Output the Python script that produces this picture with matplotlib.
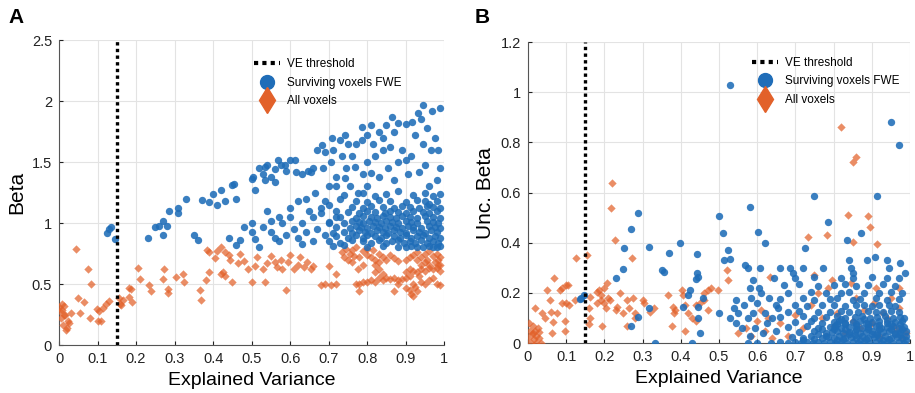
import matplotlib.pyplot as plt
from matplotlib.lines import Line2D
import numpy as np

plt.rcParams['font.family'] = ['Liberation Sans', 'DejaVu Sans']

# ---------------- data: panel A (Beta) ----------------
ve_threshold = 0.15

a_all = [
    (0.0, 0.31), (0.003, 0.28), (0.007, 0.29), (0.008, 0.34), (0.012, 0.25), (0.016, 0.245),
    (0.02, 0.14), (0.023, 0.2), (0.01, 0.165), (0.018, 0.12), (0.026, 0.18), (0.005, 0.22),
    (0.014, 0.32), (0.03, 0.26),
    (0.043, 0.79), (0.049, 0.385), (0.055, 0.265), (0.064, 0.355), (0.076, 0.62), (0.08, 0.225),
    (0.083, 0.5), (0.098, 0.295), (0.1, 0.2), (0.104, 0.28), (0.108, 0.2), (0.115, 0.3),
    (0.122, 0.34), (0.13, 0.36),
    (0.156, 0.385), (0.158, 0.34), (0.162, 0.33), (0.165, 0.37), (0.182, 0.47), (0.186, 0.46),
    (0.182, 0.39), (0.19, 0.35), (0.205, 0.63), (0.21, 0.54), (0.234, 0.49), (0.24, 0.44),
    (0.273, 0.62), (0.27, 0.54), (0.283, 0.46), (0.282, 0.43), (0.303, 0.56), (0.325, 0.52),
    (0.322, 0.58), (0.366, 0.45), (0.368, 0.37), (0.382, 0.53), (0.384, 0.78), (0.39, 0.76),
    (0.39, 0.6), (0.405, 0.71), (0.41, 0.77), (0.42, 0.8), (0.43, 0.76), (0.44, 0.74),
    (0.445, 0.7), (0.42, 0.58), (0.425, 0.6), (0.43, 0.57), (0.45, 0.52), (0.464, 0.67),
    (0.47, 0.75), (0.48, 0.69), (0.49, 0.62),
    (0.5, 0.52), (0.51, 0.65), (0.515, 0.72), (0.53, 0.62), (0.535, 0.52), (0.54, 0.67),
    (0.55, 0.73), (0.56, 0.68), (0.565, 0.64), (0.575, 0.7), (0.58, 0.62), (0.59, 0.45),
    (0.595, 0.68), (0.6, 0.74), (0.61, 0.62), (0.62, 0.66), (0.625, 0.72), (0.635, 0.64),
    (0.645, 0.68), (0.655, 0.62), (0.66, 0.65), (0.68, 0.49), (0.69, 0.5), (0.70, 0.65),
    (0.705, 0.49), (0.72, 0.58), (0.72, 0.5), (0.735, 0.76), (0.74, 0.72), (0.745, 0.79),
    (0.75, 0.7), (0.755, 0.75), (0.76, 0.68), (0.765, 0.73), (0.77, 0.5), (0.775, 0.62),
    (0.78, 0.44), (0.78, 0.72), (0.79, 0.66),
    (0.8, 0.52), (0.81, 0.53), (0.82, 0.52), (0.83, 0.55), (0.84, 0.53), (0.85, 0.55),
    (0.86, 0.54), (0.87, 0.55), (0.88, 0.53), (0.89, 0.54), (0.9, 0.55), (0.91, 0.57),
    (0.82, 0.6), (0.83, 0.62), (0.84, 0.58), (0.9, 0.6), (0.91, 0.62), (0.92, 0.61),
    (0.93, 0.6), (0.94, 0.62), (0.95, 0.61), (0.96, 0.63), (0.97, 0.62), (0.98, 0.63),
    (0.99, 0.61),
    (0.8, 0.74), (0.81, 0.72), (0.815, 0.78), (0.82, 0.7), (0.83, 0.75), (0.84, 0.72),
    (0.85, 0.7), (0.86, 0.74), (0.87, 0.71), (0.88, 0.69), (0.9, 0.7), (0.91, 0.72),
    (0.92, 0.74), (0.93, 0.76), (0.94, 0.72), (0.95, 0.75), (0.955, 0.7), (0.96, 0.77),
    (0.97, 0.73), (0.975, 0.68), (0.98, 0.75), (0.985, 0.7), (0.99, 0.72), (0.99, 0.66),
    (0.82, 0.66), (0.83, 0.68), (0.94, 0.66), (0.95, 0.68), (0.96, 0.66), (0.93, 0.7),
    (0.985, 0.66),
    (0.78, 0.5), (0.79, 0.52), (0.87, 0.44), (0.88, 0.5), (0.9, 0.47), (0.91, 0.45),
    (0.915, 0.42), (0.92, 0.4), (0.925, 0.48), (0.93, 0.44), (0.94, 0.52), (0.95, 0.5),
    (0.96, 0.53), (0.97, 0.55), (0.98, 0.5), (0.99, 0.49), (0.92, 0.5), (0.935, 0.57),
    (0.76, 0.78), (0.77, 0.8), (0.79, 0.77), (0.8, 0.79),
]

a_fwe = [
    (0.125, 0.92), (0.13, 0.95), (0.135, 0.97), (0.145, 0.87),
    (0.23, 0.88), (0.25, 0.97), (0.26, 0.98), (0.27, 1.02), (0.27, 0.9), (0.285, 1.1),
    (0.28, 0.98), (0.31, 1.12), (0.31, 1.08), (0.33, 1.2), (0.35, 0.9), (0.36, 0.86),
    (0.37, 1.19), (0.39, 1.17), (0.4, 1.24), (0.41, 1.15), (0.42, 1.27), (0.43, 1.18),
    (0.45, 1.31), (0.455, 1.32), (0.46, 1.2),
    (0.44, 0.88), (0.46, 0.82), (0.47, 0.86), (0.48, 0.97), (0.5, 0.93), (0.51, 0.87),
    (0.52, 0.8), (0.53, 0.97), (0.54, 1.1), (0.55, 0.93), (0.56, 0.88), (0.57, 0.85),
    (0.58, 1.0), (0.59, 0.9), (0.6, 1.05), (0.61, 0.95), (0.62, 1.18), (0.62, 0.88),
    (0.63, 0.83), (0.64, 0.93), (0.65, 1.1), (0.66, 1.05), (0.67, 0.95), (0.68, 1.12),
    (0.69, 0.9), (0.7, 1.0), (0.71, 0.92), (0.64, 1.2), (0.6, 1.12), (0.5, 1.0),
    (0.55, 1.02), (0.57, 1.05), (0.63, 1.0), (0.66, 0.85), (0.69, 1.18), (0.68, 1.08),
    (0.7, 1.15), (0.72, 1.1), (0.73, 1.2), (0.72, 1.05),
    (0.504, 1.38), (0.51, 1.27), (0.5, 1.36), (0.52, 1.45), (0.535, 1.46), (0.535, 1.35),
    (0.53, 1.4), (0.54, 1.48), (0.55, 1.38), (0.56, 1.44), (0.56, 1.34), (0.569, 1.52),
    (0.575, 1.48), (0.587, 1.48), (0.59, 1.43), (0.6, 1.52), (0.613, 1.52), (0.615, 1.42),
    (0.63, 1.4), (0.647, 1.43), (0.655, 1.42), (0.66, 1.45), (0.665, 1.25), (0.67, 1.6),
    (0.682, 1.64), (0.685, 1.45), (0.69, 1.58), (0.7, 1.3), (0.705, 1.5), (0.708, 1.7),
    (0.71, 1.6), (0.72, 1.38), (0.72, 1.3), (0.73, 1.68), (0.735, 1.55), (0.743, 1.72),
    (0.743, 1.37), (0.745, 1.45), (0.75, 1.65), (0.755, 1.3), (0.76, 1.55), (0.769, 1.46),
    (0.77, 1.65), (0.775, 1.25), (0.786, 1.79), (0.786, 1.68), (0.79, 1.4), (0.8, 1.72),
    (0.8, 1.5), (0.8, 1.3), (0.81, 1.8), (0.81, 1.41), (0.815, 1.65), (0.82, 1.55),
    (0.83, 1.75), (0.83, 1.38), (0.84, 1.7), (0.84, 1.6), (0.85, 1.8), (0.855, 1.45),
    (0.864, 1.87), (0.86, 1.62), (0.87, 1.75), (0.87, 1.35), (0.88, 1.82), (0.88, 1.5),
    (0.89, 1.6), (0.9, 1.81), (0.9, 1.52), (0.905, 1.4), (0.916, 1.83), (0.915, 1.55),
    (0.925, 1.72), (0.933, 1.9), (0.935, 1.42), (0.94, 1.85), (0.945, 1.97), (0.945, 1.65),
    (0.95, 1.48), (0.955, 1.78), (0.96, 1.3), (0.965, 1.6), (0.968, 1.92), (0.975, 1.7),
    (0.985, 1.6), (0.99, 1.94), (0.99, 1.45), (0.98, 1.35),
    # dense cloud
    (0.71, 0.81), (0.74, 0.82), (0.8, 0.8), (0.84, 0.81), (0.88, 0.8), (0.9, 0.8),
    (0.915, 0.81), (0.93, 0.8), (0.945, 0.8), (0.96, 0.81), (0.97, 0.8), (0.98, 0.8),
    (0.99, 0.81),
    (0.7, 0.85), (0.73, 0.84), (0.76, 0.86), (0.79, 0.85), (0.81, 0.84), (0.83, 0.86),
    (0.85, 0.84), (0.865, 0.85), (0.88, 0.86), (0.895, 0.84), (0.91, 0.85), (0.925, 0.84),
    (0.94, 0.86), (0.955, 0.84), (0.97, 0.85), (0.985, 0.84),
    (0.72, 0.89), (0.75, 0.88), (0.77, 0.9), (0.79, 0.88), (0.8, 0.9), (0.82, 0.89),
    (0.835, 0.88), (0.85, 0.9), (0.87, 0.89), (0.885, 0.88), (0.9, 0.9), (0.915, 0.88),
    (0.93, 0.89), (0.945, 0.9), (0.96, 0.88), (0.975, 0.89), (0.99, 0.88),
    (0.74, 0.93), (0.76, 0.92), (0.78, 0.94), (0.795, 0.93), (0.81, 0.92), (0.825, 0.94),
    (0.84, 0.93), (0.855, 0.92), (0.87, 0.94), (0.885, 0.93), (0.9, 0.92), (0.92, 0.94),
    (0.935, 0.93), (0.95, 0.92), (0.965, 0.94), (0.98, 0.93),
    (0.72, 0.97), (0.755, 0.96), (0.77, 0.98), (0.785, 0.97), (0.8, 0.96), (0.815, 0.98),
    (0.83, 0.97), (0.845, 0.96), (0.86, 0.98), (0.875, 0.97), (0.89, 0.96), (0.905, 0.98),
    (0.92, 0.97), (0.94, 0.96), (0.96, 0.98), (0.975, 0.97), (0.99, 0.96),
    (0.7, 1.01), (0.74, 1.0), (0.76, 1.02), (0.78, 1.01), (0.79, 1.0), (0.805, 1.02),
    (0.82, 1.01), (0.835, 1.0), (0.85, 1.02), (0.865, 1.01), (0.88, 1.0), (0.9, 1.02),
    (0.915, 1.01), (0.93, 1.0), (0.955, 1.02), (0.97, 1.01), (0.985, 1.0),
    (0.73, 1.05), (0.77, 1.04), (0.79, 1.06), (0.81, 1.05), (0.825, 1.04), (0.84, 1.06),
    (0.86, 1.05), (0.875, 1.04), (0.89, 1.06), (0.91, 1.05), (0.93, 1.04), (0.95, 1.06),
    (0.97, 1.05), (0.99, 1.04),
    (0.75, 1.09), (0.78, 1.08), (0.8, 1.1), (0.82, 1.09), (0.845, 1.08), (0.86, 1.1),
    (0.88, 1.09), (0.9, 1.08), (0.92, 1.1), (0.945, 1.09), (0.96, 1.08), (0.98, 1.1),
    (0.76, 1.13), (0.79, 1.12), (0.81, 1.14), (0.84, 1.13), (0.87, 1.12), (0.89, 1.14),
    (0.91, 1.13), (0.935, 1.12), (0.955, 1.14), (0.97, 1.13), (0.99, 1.12),
    (0.77, 1.18), (0.8, 1.17), (0.83, 1.19), (0.86, 1.18), (0.9, 1.17), (0.93, 1.19),
    (0.95, 1.18), (0.96, 1.16), (0.98, 1.18),
    (0.74, 1.23), (0.79, 1.25), (0.82, 1.22), (0.85, 1.24), (0.88, 1.26), (0.92, 1.23),
    (0.95, 1.25), (0.97, 1.22), (0.99, 1.24),
]

# ---------------- data: panel B (Unc. Beta) ----------------
b_all = [
    (0.0, 0.02), (0.005, 0.05), (0.008, 0.0), (0.01, 0.035), (0.012, 0.07), (0.015, 0.015),
    (0.018, 0.05), (0.02, 0.0), (0.022, 0.03), (0.025, 0.06), (0.028, 0.02), (0.03, 0.045),
    (0.003, 0.08), (0.035, 0.0), (0.013, 0.04),
    (0.018, 0.14), (0.036, 0.12), (0.049, 0.21), (0.058, 0.17), (0.06, 0.125), (0.068, 0.26),
    (0.075, 0.12), (0.084, 0.21), (0.088, 0.158), (0.09, 0.22), (0.1, 0.23), (0.1, 0.16),
    (0.104, 0.23), (0.108, 0.15), (0.123, 0.17), (0.127, 0.34), (0.154, 0.35), (0.097, 0.09),
    (0.066, 0.085), (0.062, 0.04), (0.097, 0.05), (0.045, 0.1),
    (0.162, 0.185), (0.16, 0.14), (0.162, 0.1), (0.16, 0.075), (0.18, 0.205), (0.185, 0.21),
    (0.19, 0.19), (0.2, 0.22), (0.206, 0.24), (0.21, 0.18), (0.2, 0.16), (0.19, 0.17),
    (0.18, 0.16), (0.205, 0.14), (0.215, 0.17), (0.193, 0.07), (0.217, 0.54), (0.22, 0.64),
    (0.228, 0.41), (0.232, 0.145), (0.23, 0.13), (0.241, 0.2), (0.25, 0.12), (0.26, 0.17),
    (0.265, 0.14), (0.273, 0.34), (0.276, 0.178), (0.28, 0.12), (0.28, 0.1), (0.26, 0.07),
    (0.3, 0.17), (0.305, 0.16), (0.319, 0.125), (0.33, 0.14), (0.367, 0.19), (0.38, 0.145),
    (0.382, 0.12), (0.385, 0.13), (0.376, 0.07), (0.402, 0.21), (0.405, 0.19), (0.41, 0.15),
    (0.42, 0.12), (0.41, 0.05), (0.43, 0.1), (0.44, 0.15), (0.45, 0.16), (0.46, 0.17),
    (0.461, 0.2), (0.47, 0.21), (0.478, 0.22), (0.47, 0.13), (0.44, 0.09),
    (0.82, 0.86), (0.85, 0.72), (0.86, 0.74), (0.838, 0.51), (0.89, 0.506), (0.895, 0.464),
    (0.851, 0.404), (0.915, 0.395), (0.733, 0.424), (0.782, 0.43), (0.52, 0.29), (0.524, 0.25),
    (0.498, 0.21), (0.633, 0.264), (0.611, 0.13), (0.628, 0.1), (0.55, 0.04), (0.57, 0.06),
    (0.585, 0.03), (0.6, 0.09), (0.62, 0.05), (0.64, 0.02), (0.66, 0.08), (0.68, 0.03),
    (0.7, 0.11), (0.72, 0.06), (0.74, 0.15), (0.76, 0.2), (0.77, 0.1), (0.795, 0.25),
    (0.8, 0.07), (0.81, 0.12), (0.83, 0.04), (0.85, 0.09), (0.86, 0.18), (0.87, 0.06),
    (0.88, 0.13), (0.9, 0.08), (0.91, 0.22), (0.92, 0.03), (0.93, 0.12), (0.94, 0.1),
    (0.95, 0.18), (0.96, 0.06), (0.97, 0.14), (0.98, 0.02), (0.99, 0.04), (0.75, 0.27),
    (0.785, 0.22), (0.845, 0.24), (0.905, 0.16), (0.97, 0.22),
]

b_fwe = [
    (0.135, 0.175), (0.14, 0.18), (0.148, 0.19), (0.23, 0.258), (0.25, 0.295), (0.251, 0.38),
    (0.27, 0.455), (0.289, 0.52), (0.317, 0.384), (0.35, 0.29), (0.355, 0.285), (0.37, 0.36),
    (0.398, 0.397), (0.443, 0.355), (0.289, 0.105), (0.27, 0.07), (0.318, 0.138), (0.333, 0.0),
    (0.407, 0.145), (0.42, 0.19), (0.425, 0.21), (0.443, 0.28), (0.445, 0.265), (0.44, 0.255),
    (0.446, 0.145), (0.445, 0.1), (0.45, 0.04), (0.43, 0.0), (0.457, 0.18),
    (0.5, 0.505), (0.51, 0.44), (0.524, 0.37), (0.53, 1.03), (0.581, 0.543), (0.602, 0.444),
    (0.62, 0.4), (0.725, 0.38), (0.75, 0.585), (0.785, 0.484), (0.873, 0.44), (0.834, 0.41),
    (0.915, 0.585), (0.95, 0.88), (0.97, 0.79),
    (0.514, 0.33), (0.529, 0.335), (0.568, 0.31), (0.577, 0.298), (0.607, 0.3), (0.66, 0.298),
    (0.686, 0.298), (0.695, 0.278), (0.721, 0.298), (0.773, 0.298), (0.84, 0.33), (0.845, 0.3),
    (0.85, 0.28), (0.887, 0.33), (0.909, 0.345), (0.939, 0.33), (0.945, 0.3), (0.974, 0.32),
    (0.987, 0.278),
    (0.5, 0.12), (0.53, 0.1), (0.54, 0.14), (0.545, 0.08), (0.55, 0.12), (0.56, 0.06),
    (0.565, 0.15), (0.575, 0.1), (0.58, 0.03), (0.585, 0.18), (0.59, 0.12), (0.595, 0.06),
    (0.6, 0.16), (0.605, 0.22), (0.61, 0.2), (0.615, 0.04), (0.62, 0.12), (0.625, 0.08),
    (0.63, 0.18), (0.635, 0.0), (0.64, 0.1), (0.645, 0.26), (0.65, 0.05), (0.655, 0.14),
    (0.575, 0.0), (0.6, 0.0), (0.545, 0.17), (0.58, 0.22), (0.59, 0.25),
    # dense cloud
    (0.66, 0.005), (0.68, 0.0), (0.7, 0.005), (0.715, 0.0), (0.73, 0.005), (0.745, 0.0),
    (0.76, 0.005), (0.775, 0.0), (0.79, 0.005), (0.805, 0.0), (0.82, 0.005), (0.835, 0.0),
    (0.85, 0.005), (0.865, 0.0), (0.88, 0.005), (0.895, 0.0), (0.91, 0.005), (0.925, 0.0),
    (0.94, 0.005), (0.955, 0.0), (0.97, 0.005), (0.985, 0.0),
    (0.69, 0.025), (0.72, 0.02), (0.74, 0.028), (0.77, 0.022), (0.785, 0.025), (0.8, 0.02),
    (0.815, 0.028), (0.83, 0.022), (0.845, 0.025), (0.86, 0.02), (0.875, 0.028), (0.89, 0.022),
    (0.905, 0.025), (0.92, 0.02), (0.935, 0.028), (0.95, 0.022), (0.965, 0.025), (0.98, 0.02),
    (0.99, 0.028),
    (0.71, 0.045), (0.75, 0.048), (0.78, 0.042), (0.795, 0.045), (0.81, 0.048), (0.825, 0.042),
    (0.84, 0.045), (0.855, 0.048), (0.87, 0.042), (0.885, 0.045), (0.9, 0.048), (0.915, 0.042),
    (0.93, 0.045), (0.945, 0.048), (0.96, 0.042), (0.975, 0.045), (0.99, 0.048),
    (0.68, 0.065), (0.73, 0.068), (0.76, 0.062), (0.79, 0.065), (0.805, 0.068), (0.82, 0.062),
    (0.84, 0.065), (0.86, 0.068), (0.875, 0.062), (0.89, 0.065), (0.91, 0.068), (0.925, 0.062),
    (0.94, 0.065), (0.955, 0.068), (0.97, 0.062), (0.985, 0.065),
    (0.7, 0.085), (0.74, 0.088), (0.77, 0.082), (0.8, 0.085), (0.815, 0.088), (0.83, 0.082),
    (0.85, 0.085), (0.87, 0.088), (0.885, 0.082), (0.9, 0.085), (0.92, 0.088), (0.94, 0.082),
    (0.96, 0.085), (0.98, 0.088),
    (0.66, 0.105), (0.72, 0.108), (0.75, 0.102), (0.78, 0.105), (0.81, 0.108), (0.83, 0.102),
    (0.855, 0.105), (0.875, 0.108), (0.895, 0.102), (0.915, 0.105), (0.935, 0.108), (0.955, 0.102),
    (0.975, 0.105),
    (0.68, 0.125), (0.71, 0.128), (0.76, 0.122), (0.79, 0.125), (0.82, 0.128), (0.84, 0.122),
    (0.865, 0.125), (0.89, 0.128), (0.91, 0.122), (0.93, 0.125), (0.95, 0.128), (0.97, 0.122),
    (0.65, 0.15), (0.7, 0.152), (0.73, 0.148), (0.77, 0.15), (0.8, 0.152), (0.83, 0.148),
    (0.86, 0.15), (0.88, 0.152), (0.9, 0.148), (0.92, 0.15), (0.945, 0.152), (0.96, 0.148),
    (0.66, 0.175), (0.72, 0.178), (0.75, 0.172), (0.79, 0.175), (0.81, 0.178), (0.85, 0.172),
    (0.87, 0.175), (0.91, 0.178), (0.94, 0.172), (0.97, 0.175),
    (0.68, 0.2), (0.74, 0.205), (0.78, 0.198), (0.82, 0.2), (0.84, 0.205), (0.88, 0.198),
    (0.92, 0.2), (0.95, 0.205), (0.98, 0.198),
    (0.67, 0.23), (0.71, 0.235), (0.76, 0.228), (0.8, 0.23), (0.83, 0.235), (0.86, 0.228),
    (0.89, 0.23), (0.93, 0.235), (0.96, 0.228),
    (0.7, 0.26), (0.75, 0.262), (0.82, 0.258), (0.85, 0.26), (0.9, 0.262), (0.94, 0.258),
    (0.97, 0.26),
    (0.72, 0.012), (0.76, 0.035), (0.81, 0.012), (0.84, 0.035), (0.87, 0.012), (0.9, 0.035),
    (0.93, 0.012), (0.96, 0.035), (0.99, 0.012), (0.8, 0.055), (0.86, 0.055), (0.92, 0.055),
    (0.98, 0.055), (0.83, 0.075), (0.89, 0.075), (0.95, 0.075),
    (0.75, 0.015), (0.78, 0.03), (0.825, 0.015), (0.855, 0.033), (0.885, 0.015), (0.915, 0.033),
    (0.945, 0.015), (0.975, 0.033), (0.77, 0.058), (0.83, 0.055), (0.89, 0.056), (0.95, 0.057),
    (0.81, 0.075), (0.86, 0.076), (0.92, 0.074), (0.975, 0.076), (0.82, 0.095), (0.88, 0.095),
    (0.94, 0.094), (0.985, 0.1),
]

blue = '#1F6DB8'
orange = '#E2612A'

fig = plt.figure(figsize=(9.15, 3.93), dpi=100)
ax_a = fig.add_axes([0.0645, 0.122, 0.421, 0.776])
ax_b = fig.add_axes([0.577, 0.127, 0.4175, 0.766])


def draw_panel(ax, all_pts, fwe_pts, ymax, yticks, ylabel, legend_anchor):
    xa, ya = np.array(all_pts).T
    xf, yf = np.array(fwe_pts).T
    ax.scatter(xa, ya, marker='D', s=18, color=orange, alpha=0.72, linewidths=0, zorder=3)
    ax.scatter(xf, yf, marker='o', s=28, color=blue, alpha=0.88, linewidths=0, zorder=4)
    ax.axvline(ve_threshold, color='black', linestyle=(0, (1, 1)), lw=2.4, zorder=5)
    ax.set_xlim(0, 1)
    ax.set_ylim(0, ymax)
    ax.set_xticks(np.arange(0, 1.01, 0.1))
    ax.set_xticklabels(['0', '0.1', '0.2', '0.3', '0.4', '0.5', '0.6', '0.7', '0.8', '0.9', '1'])
    ax.set_yticks(yticks)
    ax.set_yticklabels([('%g' % t) for t in yticks])
    ax.grid(True, color='#e3e3e3', lw=0.8)
    ax.set_axisbelow(True)
    for side in ['top', 'right']:
        ax.spines[side].set_visible(False)
    for side in ['left', 'bottom']:
        ax.spines[side].set_color('#555555')
        ax.spines[side].set_linewidth(0.8)
    ax.tick_params(direction='in', length=3, labelsize=10.5, colors='#222222', pad=5)
    ax.set_xlabel('Explained Variance', fontsize=14, labelpad=4)
    ax.set_ylabel(ylabel, fontsize=15, labelpad=4)

    handles = [
        Line2D([], [], color='black', linestyle=(0, (1, 1)), lw=3),
        Line2D([], [], color=blue, marker='o', linestyle='none', markersize=10),
        Line2D([], [], color=orange, marker='d', linestyle='none', markersize=13),
    ]
    labels = ['VE threshold', 'Surviving voxels FWE', 'All voxels']
    ax.legend(handles, labels, loc='upper left', bbox_to_anchor=legend_anchor,
              frameon=False, fontsize=8.5, handlelength=2.2, labelspacing=0.55,
              handletextpad=0.6, borderpad=0)


draw_panel(ax_a, a_all, a_fwe, 2.5, [0, 0.5, 1, 1.5, 2, 2.5], 'Beta', (0.49, 0.96))
draw_panel(ax_b, b_all, b_fwe, 1.2, [0, 0.2, 0.4, 0.6, 0.8, 1, 1.2], 'Unc. Beta', (0.57, 0.97))

fig.text(0.009, 0.955, 'A', fontsize=15, fontweight='bold', va='center')
fig.text(0.519, 0.955, 'B', fontsize=15, fontweight='bold', va='center')

fig.savefig('out.png', dpi=100, facecolor='white')
